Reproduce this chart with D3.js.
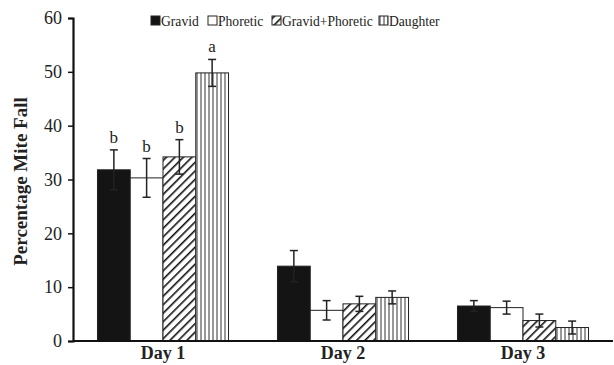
<!DOCTYPE html>
<html>
<head>
<script src="https://d3js.org/d3.v7.min.js"></script>
<style>
  body { margin: 0; background: #fff; }
  text { font-family: "Liberation Serif", "Times New Roman", serif; fill: #222; }
</style>
</head>
<body>
<script>
const days = ['Day 1', 'Day 2', 'Day 3'];
const series = ['Gravid', 'Phoretic', 'Gravid+Phoretic', 'Daughter'];
const means = {
  'Gravid':          [31.8, 13.9, 6.5],
  'Phoretic':        [30.3, 5.7, 6.2],
  'Gravid+Phoretic': [34.2, 6.9, 3.8],
  'Daughter':        [49.8, 8.1, 2.5]
};
const errors = {
  'Gravid':          [3.7, 2.9, 1.0],
  'Phoretic':        [3.6, 1.8, 1.2],
  'Gravid+Phoretic': [3.2, 1.4, 1.2],
  'Daughter':        [2.5, 1.2, 1.2]
};
const letters = {
  'Gravid':          ['b', '', ''],
  'Phoretic':        ['b', '', ''],
  'Gravid+Phoretic': ['b', '', ''],
  'Daughter':        ['a', '', '']
};
const yTicks = [0, 10, 20, 30, 40, 50, 60];

const width = 614, height = 365;
const margin = { top: 18, right: 1, bottom: 24, left: 73 };

const svg = d3.select('body').append('svg')
    .attr('width', width)
    .attr('height', height);

// fill patterns
const defs = svg.append('defs');
defs.append('pattern')
    .attr('id', 'diag')
    .attr('patternUnits', 'userSpaceOnUse')
    .attr('width', 6).attr('height', 6)
    .attr('patternTransform', 'rotate(45)')
  .call(p => {
    p.append('rect').attr('width', 6).attr('height', 6).attr('fill', '#fff');
    p.append('line').attr('x1', 0).attr('y1', 0).attr('x2', 0).attr('y2', 6)
      .attr('stroke', '#111').attr('stroke-width', 3.2);
  });
defs.append('pattern')
    .attr('id', 'vert')
    .attr('patternUnits', 'userSpaceOnUse')
    .attr('width', 4).attr('height', 4)
  .call(p => {
    p.append('rect').attr('width', 4).attr('height', 4).attr('fill', '#fff');
    p.append('line').attr('x1', 1).attr('y1', 0).attr('x2', 1).attr('y2', 4)
      .attr('stroke', '#333').attr('stroke-width', 1);
  });

const fills = {
  'Gravid': '#141414',
  'Phoretic': '#fff',
  'Gravid+Phoretic': 'url(#diag)',
  'Daughter': 'url(#vert)'
};

const x0 = d3.scaleBand()
    .domain(days)
    .range([margin.left, width - margin.right])
    .paddingInner(0.272)
    .paddingOuter(0.136);

const x1 = d3.scaleBand()
    .domain(series)
    .range([0, x0.bandwidth()]);

const y = d3.scaleLinear()
    .domain([0, 60])
    .range([height - margin.bottom, margin.top]);

// bars
const rows = days.flatMap((d, i) => series.map(s => ({
  day: d, s: s, v: means[s][i], e: errors[s][i], l: letters[s][i]
})));

const g = svg.append('g');
g.selectAll('rect.bar')
  .data(rows)
  .join('rect')
    .attr('class', 'bar')
    .attr('x', d => x0(d.day) + x1(d.s))
    .attr('y', d => y(d.v))
    .attr('width', x1.bandwidth())
    .attr('height', d => y(0) - y(d.v))
    .attr('fill', d => fills[d.s])
    .attr('stroke', '#222')
    .attr('stroke-width', 1);

// error bars
const cx = d => x0(d.day) + x1(d.s) + x1.bandwidth() / 2;
const eb = g.selectAll('g.err')
  .data(rows)
  .join('g')
    .attr('class', 'err')
    .attr('stroke', '#222')
    .attr('stroke-width', 1.5);
eb.append('line')
    .attr('x1', cx).attr('x2', cx)
    .attr('y1', d => y(d.v - d.e)).attr('y2', d => y(d.v + d.e));
eb.append('line')
    .attr('x1', d => cx(d) - 4).attr('x2', d => cx(d) + 4)
    .attr('y1', d => y(d.v + d.e)).attr('y2', d => y(d.v + d.e));
eb.append('line')
    .attr('x1', d => cx(d) - 4).attr('x2', d => cx(d) + 4)
    .attr('y1', d => y(d.v - d.e)).attr('y2', d => y(d.v - d.e));

// significance letters
g.selectAll('text.sig')
  .data(rows.filter(d => d.l))
  .join('text')
    .attr('class', 'sig')
    .attr('x', cx)
    .attr('y', d => y(d.v + d.e) - 7)
    .attr('text-anchor', 'middle')
    .style('font-size', '17px')
    .text(d => d.l);

// axes
const yAxis = svg.append('g')
    .attr('transform', `translate(${margin.left}, 0)`)
    .call(d3.axisLeft(y).tickValues(yTicks).tickSize(5).tickPadding(6));
yAxis.select('.domain').attr('stroke', '#111').attr('stroke-width', 2.2);
yAxis.selectAll('.tick line').attr('stroke', '#111').attr('stroke-width', 1.5);
yAxis.selectAll('.tick text')
    .style('font-size', '18px')
    .style('font-family', '"Liberation Serif", serif')
    .attr('fill', '#222');

const xAxis = svg.append('g')
    .attr('transform', `translate(0, ${y(0)})`)
    .call(d3.axisBottom(x0).tickSize(0).tickPadding(5));
xAxis.select('.domain').attr('stroke', '#111').attr('stroke-width', 2.2)
    .attr('d', `M${margin.left},0H${width - margin.right}`);
xAxis.selectAll('.tick text')
    .style('font-size', '18px')
    .style('font-weight', 'bold')
    .style('font-family', '"Liberation Serif", serif')
    .attr('fill', '#222');

// y label
svg.append('text')
    .attr('transform', `translate(27, ${(y(0) + y(60)) / 2 + 2}) rotate(-90)`)
    .attr('text-anchor', 'middle')
    .style('font-size', '19px')
    .style('font-weight', 'bold')
    .text('Percentage Mite Fall');

// legend
const legendX = [151, 208, 272, 379];
const leg = svg.append('g').attr('transform', 'translate(0, 26)');
series.forEach((s, i) => {
  const it = leg.append('g').attr('transform', `translate(${legendX[i]}, 0)`);
  it.append('rect')
      .attr('x', 0).attr('y', -10)
      .attr('width', 9).attr('height', 9)
      .attr('fill', fills[s])
      .attr('stroke', '#222').attr('stroke-width', 1);
  it.append('text')
      .attr('x', 10).attr('y', 0)
      .style('font-size', '13.6px')
      .text(s);
});
</script>
</body>
</html>
